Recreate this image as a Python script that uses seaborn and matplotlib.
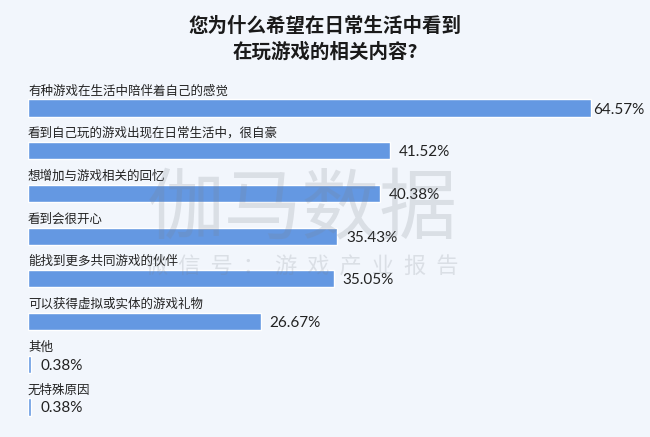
import matplotlib
matplotlib.use("Agg")
import matplotlib.pyplot as plt
import seaborn as sns
import pandas as pd

categories = [
    "有种游戏在生活中陪伴着自己的感觉",
    "看到自己玩的游戏出现在日常生活中，很自豪",
    "想增加与游戏相关的回忆",
    "看到会很开心",
    "能找到更多共同游戏的伙伴",
    "可以获得虚拟或实体的游戏礼物",
    "其他",
    "无特殊原因",
]
values = [64.57, 41.52, 40.38, 35.43, 35.05, 26.67, 0.38, 0.38]
title = "您为什么希望在日常生活中看到\n在玩游戏的相关内容?"
watermark = "伽马数据"
watermark_sub = "微信号：游戏产业报告"

BG = "#f2f6fc"
BAR = "#6498e2"
TXT = "#222222"

sns.set_theme(style="white")
plt.rcParams["font.family"] = ["Noto Sans CJK SC", "DejaVu Sans"]

df = pd.DataFrame({"cat": categories, "val": values})

W, H = 650, 437
fig = plt.figure(figsize=(W / 100, H / 100), dpi=100, facecolor=BG)
left_px, top_px = 28, 65
ax = fig.add_axes([left_px / W, 0, 1 - left_px / W, 1 - top_px / H])
ax.set_facecolor(BG)

sns.barplot(data=df, x="val", y="cat", orient="h", color=BAR, width=0.4,
            saturation=1, ax=ax, zorder=2)

px_per_unit = (591 - 28) / values[0]
ax.set_xlim(0, (W - left_px) / px_per_unit)
spacing = (407 - 108) / 7
ax.set_ylim(7 + (H - 407) / spacing, -(108 - top_px) / spacing)

for i, (c, v) in enumerate(zip(categories, values)):
    ax.text(0, i - 0.40, c, ha="left", va="center", fontsize=9, color=TXT)
    pad = 2 if i == 0 else 9
    ax.annotate(f"{v:.2f}%", xy=(v, i), xytext=(pad, -1.5),
                textcoords="offset pixels", ha="left", va="center",
                fontsize=11, color=TXT, family=["Lato", "DejaVu Sans"])

ax.set_xlabel("")
ax.set_ylabel("")
ax.set_xticks([])
ax.set_yticks([])
for s in ax.spines.values():
    s.set_visible(False)

fig.text(325 / W, 1 - 39 / H, title, ha="center", va="center",
         fontsize=14, fontweight="bold", color="#1a1a1a", linespacing=1.45)

fig.text(302 / W, 1 - 211 / H, watermark, ha="center", va="center",
         fontsize=56, color="#7d838c", alpha=0.2, zorder=10)
fig.text(302 / W, 1 - 267 / H, "  ".join(watermark_sub), ha="center", va="center",
         fontsize=16, color="#7d838c", alpha=0.2, zorder=10)

fig.savefig("out.png", dpi=100, facecolor=BG)
